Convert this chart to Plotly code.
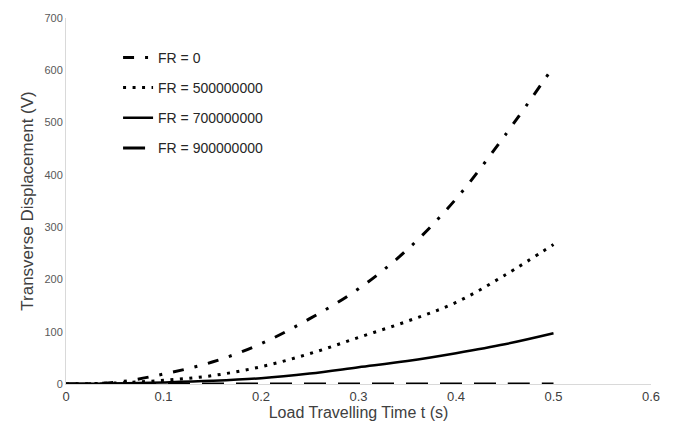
import plotly.graph_objects as go

t = [0.0, 0.05, 0.1, 0.15, 0.2, 0.25, 0.3, 0.35, 0.4, 0.45, 0.5]
fr_0 = [0, 3, 19, 42, 77, 125, 182, 257, 354, 475, 607]
fr_5e8 = [0, 2, 7, 16, 33, 58, 89, 120, 156, 208, 267]
fr_7e8 = [0, 1, 3, 6, 11, 20, 32, 44, 59, 76, 97]
fr_9e8 = [0, 0, 0, 0, 0, 0, 0, 0, 0, 0, 0]

names = ["FR = 0", "FR = 500000000", "FR = 700000000", "FR = 900000000"]
series = [fr_0, fr_5e8, fr_7e8, fr_9e8]
dashes = ["11px,11px,3px,11px", "3px,6.5px", "solid", "22px,12px"]
widths = [3, 3, 2.5, 3]

FONT = "Liberation Sans Narrow, Arial Narrow, Liberation Sans, Arial, sans-serif"

fig = go.Figure()
for i, (nm, ys) in enumerate(zip(names, series)):
    fig.add_trace(go.Scatter(
        x=t, y=ys, mode="lines", name=nm, legendgroup=str(i),
        line=dict(color="black", width=widths[i], dash=dashes[i], shape="spline"),
    ))

fig.update_layout(
    width=678, height=439,
    margin=dict(l=66, r=27, t=15, b=55),
    paper_bgcolor="white", plot_bgcolor="white",
    font=dict(family=FONT, color="#404040"),
    showlegend=True,
    legend=dict(x=0.089, y=0.935, xanchor="left", yanchor="top",
                bgcolor="rgba(0,0,0,0)", font=dict(size=14, color="#262626"),
                traceorder="grouped", tracegroupgap=9),
    xaxis=dict(range=[0, 0.6], dtick=0.1, showgrid=False, zeroline=False,
               showline=True, linecolor="#d9d9d9", linewidth=1, ticks="",
               tickfont=dict(size=13, color="#404040"),
               title=dict(text="Load Travelling Time t (s)", font=dict(size=16, color="#404040"), standoff=4)),
    yaxis=dict(range=[0, 700], dtick=100, showgrid=False, zeroline=False,
               showline=True, linecolor="#d9d9d9", linewidth=1, ticks="",
               tickfont=dict(size=11, color="#595959"),
               title=dict(text="Transverse Displacement (V)", font=dict(size=17, color="#404040"), standoff=6)),
)
fig.write_html("out.html")
